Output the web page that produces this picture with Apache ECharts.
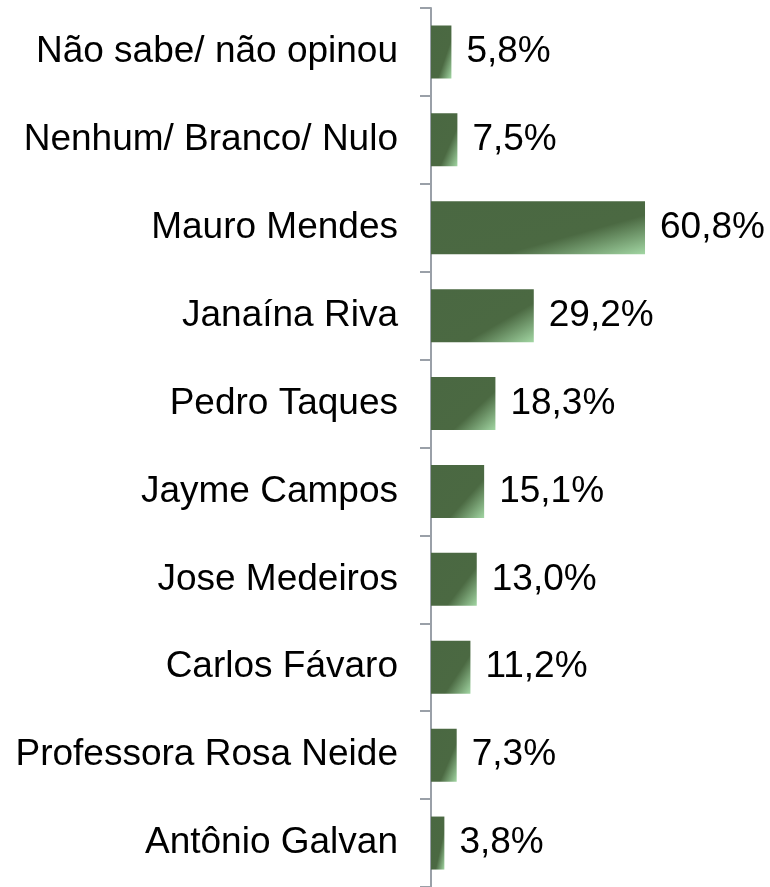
<!DOCTYPE html>
<html>
<head>
<meta charset="utf-8">
<script src="https://cdn.jsdelivr.net/npm/echarts@6/dist/echarts.min.js"></script>
<style>
  html, body { margin: 0; padding: 0; background: #fff; }
  #chart { width: 770px; height: 887px; }
</style>
</head>
<body>
<div id="chart"></div>
<script>
// categories top to bottom
const candidates = [
  'Não sabe/ não opinou',
  'Nenhum/ Branco/ Nulo',
  'Mauro Mendes',
  'Janaína Riva',
  'Pedro Taques',
  'Jayme Campos',
  'Jose Medeiros',
  'Carlos Fávaro',
  'Professora Rosa Neide',
  'Antônio Galvan'
]
const percents = [5.8, 7.5, 60.8, 29.2, 18.3, 15.1, 13.0, 11.2, 7.3, 3.8]

const X_MAX = 80
const GRID_W = 281.6
const BAR_H = 53
const PX_PER_UNIT = GRID_W / X_MAX

// diagonal shine in the bottom-right corner, same shape on every bar
function barGradient(value) {
  const w = value * PX_PER_UNIT
  const h = BAR_H
  const vx = 0.74 * h
  const vy = 0.66 * w
  const len2 = vx * vx + vy * vy
  const tc = vx * w + vy * h
  const ex = vx * tc / len2
  const ey = vy * tc / len2
  return new echarts.graphic.LinearGradient(0, 0, ex / w, ey / h, [
    { offset: 0, color: '#4a6842' },
    { offset: 0.65, color: '#4b6942' },
    { offset: 1, color: '#a2d6a3' }
  ])
}

const chart = echarts.init(document.getElementById('chart'))
chart.setOption({
  animation: false,
  grid: {
    left: 431,
    top: 8,
    width: GRID_W,
    height: 883
  },
  xAxis: {
    type: 'value',
    min: 0,
    max: X_MAX,
    show: false
  },
  yAxis: {
    type: 'category',
    inverse: true,
    data: candidates,
    axisLine: {
      show: true,
      lineStyle: { color: '#9aa0a8', width: 2 }
    },
    axisTick: {
      show: true,
      length: 11,
      lineStyle: { color: '#9aa0a8', width: 2 }
    },
    axisLabel: {
      margin: 33,
      color: '#000',
      fontSize: 37,
      fontFamily: 'Liberation Sans, Arial, sans-serif'
    },
    splitLine: { show: false }
  },
  series: [{
    type: 'bar',
    barWidth: BAR_H,
    data: percents.map(v => ({
      value: v,
      itemStyle: { color: barGradient(v) }
    })),
    label: {
      show: true,
      position: 'right',
      distance: 15,
      color: '#000',
      fontSize: 37,
      fontFamily: 'Liberation Sans, Arial, sans-serif',
      formatter: p => p.value.toFixed(1).replace('.', ',') + '%'
    }
  }]
})
</script>
</body>
</html>
